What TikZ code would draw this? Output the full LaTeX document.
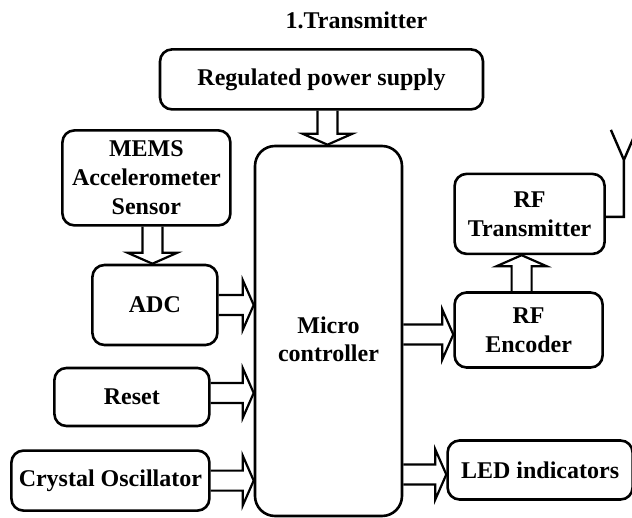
\documentclass[tikz,border=0pt]{standalone}
\usepackage{fontspec}
\setmainfont{Liberation Serif}
\usetikzlibrary{positioning,calc}

\newcommand{\shaftw}{10pt}
\newcommand{\headw}{25pt}
\newcommand{\headl}{11pt}

\begin{document}
\begin{tikzpicture}[
				block/.style={rectangle, rounded corners=12pt, draw=black, line width=2.6pt, align=center, inner sep=2pt, font=\bfseries\fontsize{24}{29}\selectfont},
				heading/.style={rectangle, align=center, font=\bfseries\fontsize{24}{28}\selectfont},
				fatright/.style={to path={let \p1=(\tikztostart), \p2=(\tikztotarget) in
					(\x1,\y1+\shaftw) -- (\x2-\headl,\y1+\shaftw) -- (\x2-\headl,\y1+\headw) -- (\x2,\y1)
					-- (\x2-\headl,\y1-\headw) -- (\x2-\headl,\y1-\shaftw) -- (\x1,\y1-\shaftw)}},
				fatdown/.style={to path={let \p1=(\tikztostart), \p2=(\tikztotarget) in
					(\x1-\shaftw,\y1) -- (\x1-\shaftw,\y2+\headl) -- (\x1-\headw,\y2+\headl) -- (\x1,\y2)
					-- (\x1+\headw,\y2+\headl) -- (\x1+\shaftw,\y2+\headl) -- (\x1+\shaftw,\y1)}},
				fatup/.style={to path={let \p1=(\tikztostart), \p2=(\tikztotarget) in
					(\x1-\shaftw,\y1) -- (\x1-\shaftw,\y2-\headl) -- (\x1-\headw,\y2-\headl) -- (\x1,\y2)
					-- (\x1+\headw,\y2-\headl) -- (\x1+\shaftw,\y2-\headl) -- (\x1+\shaftw,\y1)}}
			]
			\useasboundingbox (0,0) rectangle (632pt,-518pt);
			\node[block, rounded corners=20pt, minimum width=147pt, minimum height=370pt] (mc) at (328.5pt,-331pt) {};
			\node[heading] (mctext) at ([yshift=-8pt]mc.center) {Micro\\controller};
			\node[block, minimum width=323pt, minimum height=60pt] (psu) [above=34pt of mc.north, xshift=-7pt] {Regulated power supply};
			\node[heading] (title) [above=16pt of psu, xshift=35pt] {1.Transmitter};
			\node[block, minimum width=125pt, minimum height=80pt] (adc) [left=35pt of mc, yshift=26pt] {ADC};
			\node[block, minimum width=168pt, minimum height=95pt] (mems) [above=37pt of adc, xshift=-8.5pt] {MEMS\\Accelerometer\\Sensor};
			\node[block, minimum width=155pt, minimum height=58pt] (reset) [left=43pt of mc, yshift=-66pt] {Reset};
			\node[block, minimum width=198pt, minimum height=60pt] (xtal) [below=22pt of reset.south east, anchor=north east] {Crystal Oscillator};
			\node[block, minimum width=148pt, minimum height=75pt] (rfenc) [right=50pt of mc, yshift=1pt] {RF\\Encoder};
			\node[block, minimum width=150pt, minimum height=80pt] (rftx) [above=36pt of rfenc, xshift=1pt] {RF\\Transmitter};
			\node[block, minimum width=185pt, minimum height=59pt] (led) [right=43pt of mc, yshift=-139pt] {LED indicators};
			% antenna
			\coordinate (feed) at ([xshift=18pt,yshift=-3pt]rftx.east);
			\coordinate (ant) at ([yshift=57pt]feed);
			\draw[line width=2.4pt] ([yshift=-3pt]rftx.east) -- (feed) -- (ant) -- ++(-13pt,30pt) (ant) -- ++(13pt,30pt);
			\begin{scope}[line width=2.2pt]
			\draw[fatdown] ([xshift=6pt]psu.south) to (mc.north);
			\draw[fatdown] ([xshift=6pt]mems.south) to (adc.north);
			\draw[fatright] (adc.east) to (mc.west);
			\draw[fatright] ([yshift=4pt]reset.east) to (mc.west);
			\draw[fatright] (xtal.east) to (mc.west);
			\draw[fatright] ([yshift=-3.5pt]mc.east) to (rfenc.west);
			\draw[fatup] ([xshift=-7pt]rfenc.north) to (rftx.south);
			\draw[fatright] ([yshift=-143.5pt]mc.east) to (led.west);
			\end{scope}
			\end{tikzpicture}
\end{document}
